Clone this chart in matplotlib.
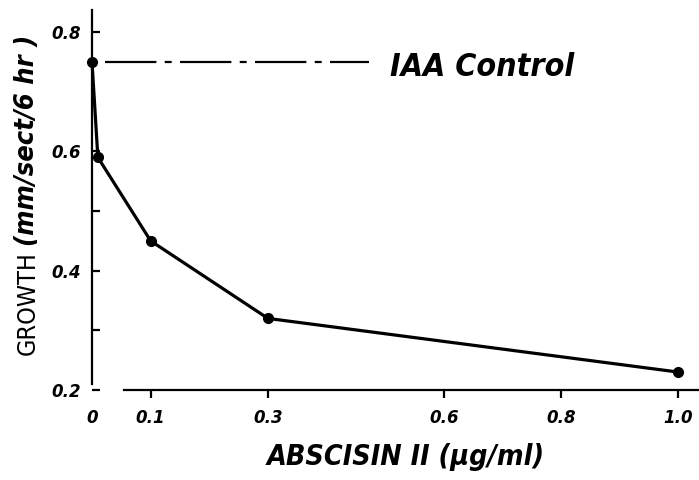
import matplotlib
matplotlib.use("Agg")
import matplotlib.pyplot as plt

# Data
conc = [0.0, 0.01, 0.1, 0.3, 1.0]
growth = [0.75, 0.59, 0.45, 0.32, 0.23]
iaa_control = 0.75
x_ticks = [0.0, 0.1, 0.3, 0.6, 0.8, 1.0]
x_ticklabels = ["0", "0.1", "0.3", "0.6", "0.8", "1.0"]
y_ticks = [0.2, 0.3, 0.4, 0.5, 0.6, 0.8]
y_ticklabels = ["0.2", "", "0.4", "", "0.6", "0.8"]

plt.rcParams['font.family'] = ['DejaVu Sans']
plt.rcParams['lines.scale_dashes'] = False

W, H = 699, 480
fig = plt.figure(figsize=(W / 100, H / 100), dpi=100)
left_px, right_px = 92, 699
bottom_px, top_px = 390, 10
ax = fig.add_axes([left_px / W, (H - bottom_px) / H,
                   (right_px - left_px) / W, (bottom_px - top_px) / H])
ax.set_xlim(0, 1.035)
ax.set_ylim(0.2, 0.837)

# data curve
ax.plot(conc, growth, color='black', lw=2.3, marker='o', ms=7,
        solid_joinstyle='round', clip_on=False, zorder=3)

# IAA control reference line
ax.plot([0.023, 0.472], [iaa_control, iaa_control], color='black', lw=1.6,
        dashes=(37, 6, 5, 6), clip_on=False)
ax.text(0.508, iaa_control - 0.01, "IAA Control", fontsize=23,
        fontstyle='italic', fontweight='bold', fontstretch='condensed',
        va='center', ha='left')

# spines
for s in ['top', 'right']:
    ax.spines[s].set_visible(False)
ax.spines['left'].set_linewidth(1.6)
ax.spines['bottom'].set_linewidth(1.6)
ax.spines['bottom'].set_bounds(0.055, 1.035)
ax.spines['left'].set_bounds(0.21, 0.837)

ax.set_xticks(x_ticks)
ax.set_xticklabels(x_ticklabels, fontsize=12, fontstyle='italic', fontweight='bold')
ax.tick_params(axis='x', direction='out', length=6, width=1.6, pad=8)
ax.xaxis.get_major_ticks()[0].tick1line.set_visible(False)

ax.set_yticks(y_ticks)
ax.set_yticklabels(y_ticklabels, fontsize=12, fontstyle='italic', fontweight='bold')
ax.tick_params(axis='y', direction='in', length=6, width=1.6, pad=8)

fig.text(406 / W, 1 - 457 / H, "ABSCISIN II (μg/ml)", fontsize=20.5,
         fontstyle='italic', fontweight='bold', fontstretch='condensed',
         ha='center', va='center')
fig.text(28 / W, 1 - 303 / H, "GROWTH", fontsize=18, rotation=90,
         fontstretch='condensed', ha='center', va='center')
fig.text(27 / W, 1 - 140 / H, "(mm/sect/6 hr )", fontsize=19.5, rotation=90,
         fontstyle='italic', fontweight='bold', fontstretch='condensed',
         ha='center', va='center')

fig.savefig("out.png", dpi=100)
